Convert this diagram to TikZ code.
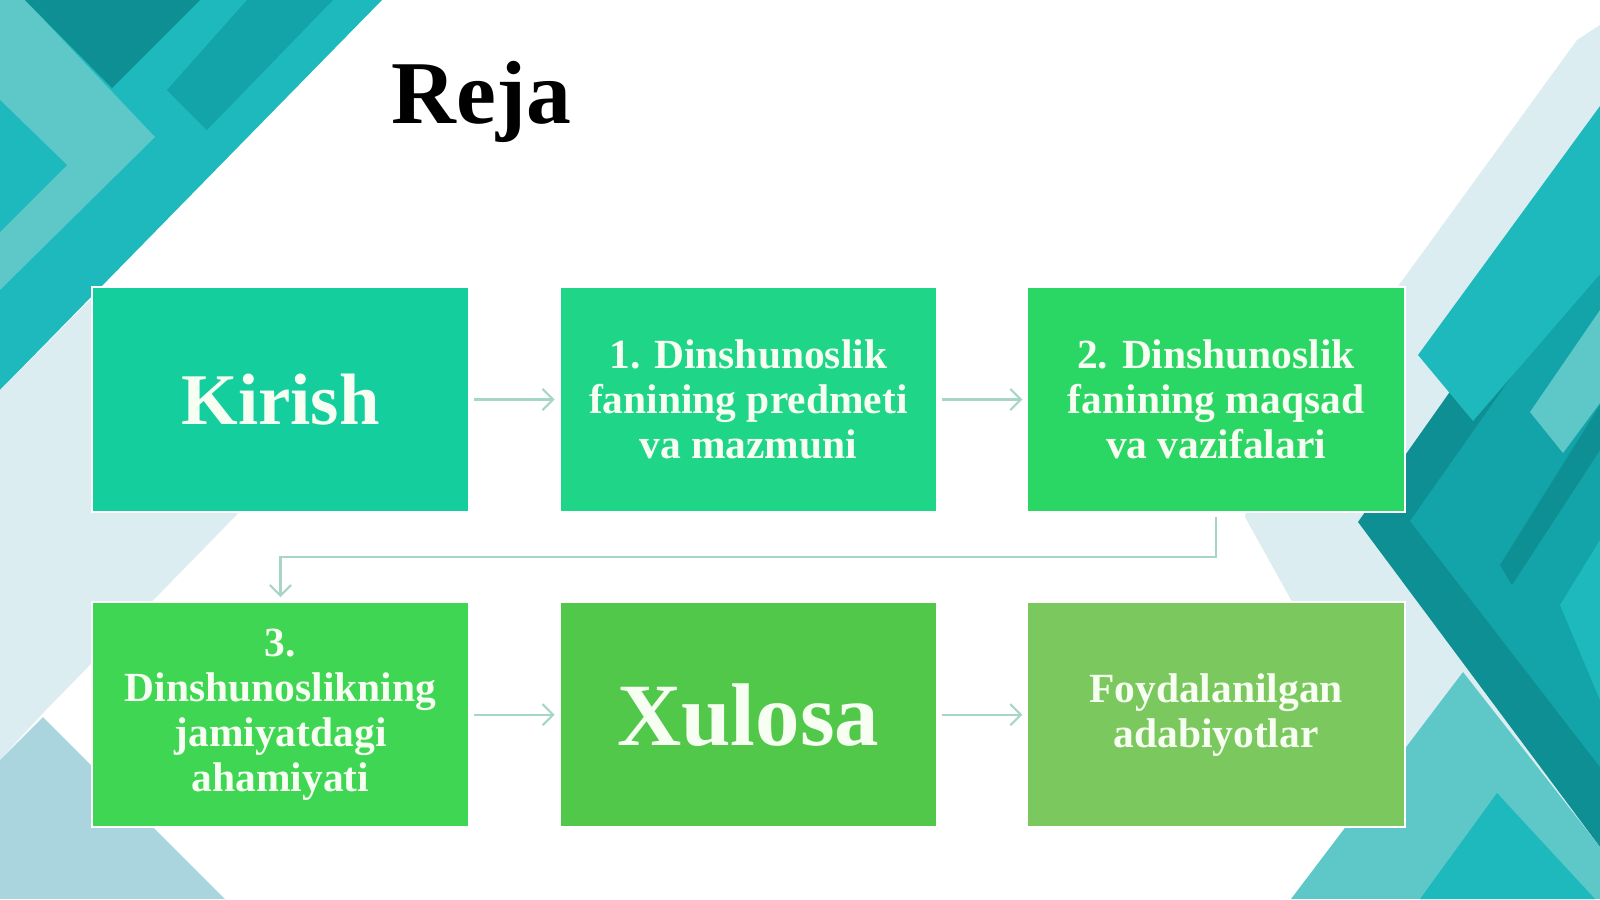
\documentclass[tikz,border=0pt]{standalone}
\usepackage{fontspec}
\setmainfont{Liberation Serif}
\usepackage {tikz}
\usetikzlibrary {positioning}
\usetikzlibrary{arrows.meta}

\definecolor{tealmain}{RGB}{30,185,189}
\definecolor{teallight}{RGB}{94,200,201}
\definecolor{tealdark}{RGB}{14,143,147}
\definecolor{tealmid}{RGB}{19,164,169}
\definecolor{pale}{RGB}{220,237,241}
\definecolor{paledark}{RGB}{170,212,222}
\definecolor{kirishc}{RGB}{20,207,157}
\definecolor{bobA}{RGB}{30,213,136}
\definecolor{bobB}{RGB}{42,214,100}
\definecolor{bobC}{RGB}{63,214,83}
\definecolor{xulosac}{RGB}{82,200,75}
\definecolor{adabc}{RGB}{123,201,94}
\definecolor{boxtext}{RGB}{246,255,242}
\definecolor{linkgray}{RGB}{168,214,198}

\begin{document}
\begin{tikzpicture}[x=0.01cm, y=-0.01cm, node distance =3.15cm and 4.675cm ,on grid ,
  box/.style ={ rectangle, draw = white, line width = 0.5pt, text = boxtext,
  minimum width = 3.77cm, minimum height = 2.25cm, inner sep = 0pt, align = center,
  font = \bfseries\fontsize{11.8}{12.8}\selectfont},
  link/.style ={ draw = linkgray, line width = 0.6pt,
  -{Straight Barb[length=3pt, width=6pt]}, shorten <= 1.2pt, shorten >= 1.2pt}]
  \useasboundingbox (0,0) rectangle (1600,899);
  \fill[white] (0,0) rectangle (1600,899);
  % top left corner
  \fill[tealmain] (0,0) -- (382,0) -- (0,390) -- cycle;
  \fill[teallight] (0,0) -- (25,0) -- (155,137) -- (0,290) -- cycle;
  \fill[tealmain] (0,100) -- (67,165) -- (0,232) -- cycle;
  \fill[tealdark] (25,0) -- (200,0) -- (112,88) -- cycle;
  \fill[tealmid] (247,0) -- (333,0) -- (207,130) -- (167,90) -- cycle;
  % bottom left corner
  \fill[pale] (0,390) -- (98,292) -- (300,450) -- (44,712) -- (0,760) -- cycle;
  \fill[paledark] (0,760) -- (43,717) -- (225,899) -- (0,899) -- cycle;
  % right side
  \fill[pale] (1577,40) -- (1600,25) -- (1600,880) -- (1380,760) -- (1245,517) -- (1250,490) -- cycle;
  \fill[tealdark] (1358,522) -- (1600,179) -- (1600,847) -- cycle;
  \fill[tealmid] (1410,521) -- (1600,251) -- (1600,767) -- cycle;
  \fill[tealdark] (1600,405) -- (1500,565) -- (1512,585) -- (1600,450) -- cycle;
  \fill[tealmain] (1600,540) -- (1560,605) -- (1600,700) -- cycle;
  \fill[tealmain] (1600,106) -- (1418,355) -- (1473,421) -- (1600,274) -- cycle;
  \fill[teallight] (1600,310) -- (1530,412) -- (1563,453) -- (1600,403) -- cycle;
  \fill[teallight] (1291,899) -- (1463,672) -- (1600,847) -- (1600,899) -- cycle;
  \fill[tealmain] (1497,793) -- (1420,899) -- (1595,899) -- cycle;

  \node[anchor = base west, inner sep = 0pt, font = \bfseries\fontsize{25.5}{29}\selectfont] (reja) at (391,123) {Reja};

  \node[box, fill = kirishc, font = \bfseries\fontsize{20.7}{24}\selectfont] (kirish) at (280.5,399.5)
  {Kirish};
  \node[box, fill = bobA] (bob1) [right=of kirish] {1. Dinshunoslik\\fanining predmeti\\va mazmuni};
  \node[box, fill = bobB] (bob2) [right=of bob1] {2. Dinshunoslik\\fanining maqsad\\va vazifalari};
  \node[box, fill = bobC] (bob3) [below=of kirish] {3.\\Dinshunoslikning\\jamiyatdagi\\ahamiyati};
  \node[box, fill = xulosac, font = \bfseries\fontsize{25.3}{28}\selectfont] (xulosa) [below=of bob1] {Xulosa};
  \node[box, fill = adabc] (adabiyot) [below=of bob2] {Foydalanilgan\\adabiyotlar};

  \path[link] (kirish) -- (bob1);
  \path[link] (bob1) -- (bob2);
  \path[link] (bob2.south) -- ++(0,44) -| (bob3.north);
  \path[link] (bob3) -- (xulosa);
  \path[link] (xulosa) -- (adabiyot);
\end{tikzpicture}
\end{document}
